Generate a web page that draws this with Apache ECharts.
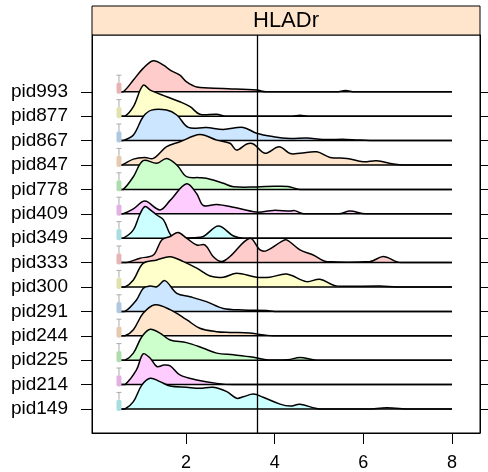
<!DOCTYPE html>
<html>
<head>
<meta charset="utf-8">
<script src="https://cdn.jsdelivr.net/npm/echarts@6/dist/echarts.min.js"></script>
<style>
  html, body { margin: 0; padding: 0; background: #fff; }
  #main { width: 488px; height: 472px; }
</style>
</head>
<body>
<div id="main"></div>
<script>
// rows, bottom to top
const rows = ['pid149', 'pid214', 'pid225', 'pid244', 'pid291', 'pid300', 'pid333',
              'pid349', 'pid409', 'pid778', 'pid847', 'pid867', 'pid877', 'pid993'];
const xTicks = [2, 4, 6, 8];
const gateX = 3.6;
const panelTitle = 'HLADr';

// density outlines: [x, height in row units]
const d149 = [[0.46,0],[0.62,0],[0.81,0.3],[1.0,0.98],[1.19,1.26],[1.41,1.12],[1.64,0.94],[2.01,0.89],[2.31,0.85],[2.61,0.89],[2.92,0.71],[3.14,0.44],[3.29,0.5],[3.52,0.61],[3.74,0.48],[4.12,0.2],[4.35,0.12],[4.57,0.19],[5.02,0],[6.1,0],[6.53,0.05],[7.05,0],[8,0]];
const d214 = [[0.46,0],[0.62,0],[0.88,0.6],[1.03,1.26],[1.19,1.08],[1.34,0.74],[1.5,0.8],[1.64,0.77],[1.86,0.4],[2.24,0.19],[2.69,0.05],[3.07,0],[8,0]];
const d225 = [[0.46,0],[0.62,0],[0.81,0.29],[1.0,0.96],[1.19,1.27],[1.41,1.11],[1.64,0.83],[2.01,0.72],[2.39,0.49],[2.69,0.29],[3.07,0.22],[3.52,0.12],[3.85,0.01],[4.3,0.02],[4.57,0.11],[4.95,0],[8,0]];
const d244 = [[0.46,0],[0.62,0],[0.81,0.25],[1.03,0.92],[1.3,1.27],[1.64,1.07],[2.01,0.66],[2.31,0.31],[2.69,0.17],[2.99,0.14],[3.44,0.11],[3.96,0],[8,0]];
const d291 = [[0.46,0],[0.62,0],[0.88,0.47],[1.03,0.94],[1.19,1.04],[1.34,1.01],[1.52,1.26],[1.79,0.74],[2.09,0.6],[2.46,0.4],[2.84,0.12],[3.29,0.06],[3.82,0.04],[4.0,0],[8,0]];
const d300 = [[0.46,0],[0.62,0],[0.81,0.29],[1.03,0.97],[1.34,1.11],[1.64,1.24],[1.94,1.04],[2.24,0.77],[2.54,0.45],[2.84,0.4],[3.14,0.56],[3.59,0.4],[3.89,0.4],[4.27,0.53],[4.72,0.22],[5.02,0.32],[5.4,0.04],[6.38,0.04],[6.75,0],[8,0]];
const d333 = [[0.46,0],[0.66,0],[0.96,0.18],[1.26,0.31],[1.45,0.93],[1.64,1.07],[1.82,1.23],[2.01,1.0],[2.24,0.72],[2.43,0.72],[2.61,0.25],[2.8,0.04],[2.99,0.25],[3.44,1.0],[3.67,0.52],[3.82,0.49],[4.15,0.86],[4.27,0.93],[4.57,0.52],[4.87,0.31],[5.17,0.04],[6.15,0.04],[6.45,0.25],[6.75,0.04],[6.85,0],[8,0]];
const d349 = [[0.46,0],[0.58,0],[0.81,0.34],[0.95,0.95],[1.07,1.3],[1.2,1.15],[1.34,0.95],[1.49,0.75],[1.67,0.09],[1.86,0],[2.2,0.02],[2.39,0.07],[2.73,0.5],[3.07,0.09],[3.3,0],[8,0]];
const d409 = [[0.46,0],[0.58,0],[0.81,0.2],[1.07,0.52],[1.41,0.16],[1.64,0.55],[2.01,1.23],[2.24,0.82],[2.39,0.34],[2.69,0.38],[3.07,0.27],[3.59,0.07],[3.97,0.14],[4.35,0.11],[4.45,0.13],[4.65,0],[5.45,0],[5.7,0.11],[6.05,0],[8,0]];
const d778 = [[0.46,0],[0.58,0],[0.81,0.52],[1.03,1.18],[1.34,1.07],[1.56,1.27],[1.79,1.0],[2.01,0.52],[2.3,0.48],[2.54,0.42],[2.84,0.25],[3.07,0.11],[3.59,0.1],[4.0,0.13],[4.3,0.12],[4.57,0],[8,0]];
const d847 = [[0.46,0],[0.55,0],[0.81,0.24],[1.07,0.31],[1.26,0.27],[1.56,0.75],[1.86,0.95],[2.31,1.25],[2.69,1.02],[2.99,0.89],[3.14,0.61],[3.37,0.86],[3.52,0.86],[3.78,0.48],[4.1,0.75],[4.35,0.47],[4.57,0.48],[4.95,0.54],[5.25,0.31],[5.63,0.27],[6.0,0.13],[6.3,0.17],[6.68,0.04],[6.94,0],[8,0]];
const d867 = [[0.46,0],[0.58,0],[0.81,0.23],[1.03,0.98],[1.22,1.25],[1.56,1.25],[1.79,1.05],[2.05,0.54],[2.46,0.54],[2.84,0.46],[3.29,0.54],[3.59,0.3],[3.97,0.16],[4.35,0.09],[4.72,0.11],[5.09,0.05],[5.62,0.05],[6.3,0],[8,0]];
const d877 = [[0.46,0],[0.62,0],[0.81,0.39],[1.03,1.27],[1.19,1.07],[1.56,0.8],[1.86,0.59],[2.09,0.39],[2.31,0.08],[2.69,0.08],[2.9,0],[4.4,0],[4.57,0.04],[4.75,0],[8,0]];
const d993 = [[0.46,0],[0.58,0],[0.81,0.48],[1.03,0.96],[1.26,1.27],[1.49,1.09],[1.64,0.89],[1.86,0.68],[2.01,0.41],[2.24,0.2],[2.83,0.14],[3.6,0.07],[3.8,0],[5.4,0],[5.6,0.05],[5.8,0],[8,0]];
const densities = [d149, d214, d225, d244, d291, d300, d333, d349, d409, d778, d847, d867, d877, d993];

// lattice superpose colours
const fills = ['#CCFFFF', '#FFCCFF', '#CCFFCC', '#FFE5CC', '#CCE6FF', '#FFFFCC', '#FFCCCC'];
const boxCols = ['#A9DDE2', '#E2B0E2', '#ADDDAD', '#E6C9AE', '#AEC8E2', '#E2E2AE', '#E6B4B4'];
const boxX = 0.485;

const chart = echarts.init(document.getElementById('main'));
const font = 'Liberation Sans, Arial, Helvetica, sans-serif';
const rowIdx = rows.map((r, i) => i);

chart.setOption({
  animation: false,
  grid: { left: 92, right: 8, top: 35, bottom: 39, show: true, borderColor: '#000', borderWidth: 1 },
  xAxis: {
    type: 'value', min: -0.124, max: 8.634,
    splitLine: { show: false },
    axisLine: { show: true, onZero: false, lineStyle: { color: '#000', width: 1 } },
    axisTick: { show: true, customValues: xTicks, length: 11, lineStyle: { color: '#000' } },
    axisLabel: { customValues: xTicks, color: '#000', fontSize: 18, fontFamily: font, margin: 21 }
  },
  yAxis: [{
    type: 'value', min: -0.984, max: 15.328, position: 'left',
    splitLine: { show: false },
    axisLine: { show: true, onZero: false, lineStyle: { color: '#000', width: 1 } },
    axisTick: { show: true, customValues: rowIdx, length: 11, lineStyle: { color: '#000' } },
    axisLabel: { customValues: rowIdx, color: '#000', fontSize: 19, fontFamily: font, margin: 24,
                 formatter: v => rows[Math.round(v)] }
  }, {
    type: 'value', min: -0.984, max: 15.328, position: 'right',
    splitLine: { show: false },
    axisLine: { show: true, onZero: false, lineStyle: { color: '#000', width: 1 } },
    axisTick: { show: true, customValues: rowIdx, length: 11, lineStyle: { color: '#000' } },
    axisLabel: { show: false }
  }],
  graphic: [
    { type: 'rect', shape: { x: 92, y: 6, width: 388, height: 29 },
      style: { fill: '#FFE5CC', stroke: '#000', lineWidth: 1 } },
    { type: 'text', x: 286, y: 21,
      style: { text: panelTitle, fill: '#000', font: '22px ' + font, textAlign: 'center', textVerticalAlign: 'middle' } }
  ],
  series: [{
    type: 'custom',
    clip: false,
    // top row first so lower rows overlap it
    data: rowIdx.slice().reverse().map(i => [i]),
    renderItem: function (params, api) {
      const i = api.value(0);
      const dens = densities[i];
      const pts = dens.map(p => api.coord([p[0], i + p[1]]));
      const start = api.coord([dens[0][0], i]), end = api.coord([dens[dens.length - 1][0], i]);
      const base = start[1];
      const top = api.coord([0, 15.3])[1];
      const cons = [[start[0], top], [end[0], base]];
      const fill = fills[i % 7], bc = boxCols[i % 7];
      const bx = api.coord([boxX, i])[0];
      const b0 = api.coord([0, i - 0.08])[1], b1 = api.coord([0, i + 0.38])[1], w1 = api.coord([0, i + 0.68])[1];
      return {
        type: 'group',
        children: [
          { type: 'polygon', shape: { points: pts, smooth: 0.35, smoothConstraint: cons },
            style: { fill: fill, stroke: null } },
          { type: 'line', shape: { x1: start[0], y1: base, x2: end[0], y2: base },
            style: { stroke: '#000', lineWidth: 1.5 } },
          { type: 'polyline', shape: { points: pts, smooth: 0.35, smoothConstraint: cons },
            style: { fill: null, stroke: '#000', lineWidth: 1.5 } },
          { type: 'line', shape: { x1: bx, y1: b1, x2: bx, y2: w1 }, style: { stroke: '#AAAAAA', lineWidth: 1 } },
          { type: 'line', shape: { x1: bx - 2.5, y1: w1, x2: bx + 2.5, y2: w1 }, style: { stroke: '#AAAAAA', lineWidth: 1 } },
          { type: 'rect', shape: { x: bx - 2.5, y: b1, width: 5, height: b0 - b1, r: 2 },
            style: { fill: bc, stroke: null } }
        ]
      };
    },
    markLine: {
      silent: true, symbol: 'none', label: { show: false },
      lineStyle: { color: '#000', width: 1.3, type: 'solid' },
      data: [{ xAxis: gateX }]
    }
  }]
});
</script>
</body>
</html>
